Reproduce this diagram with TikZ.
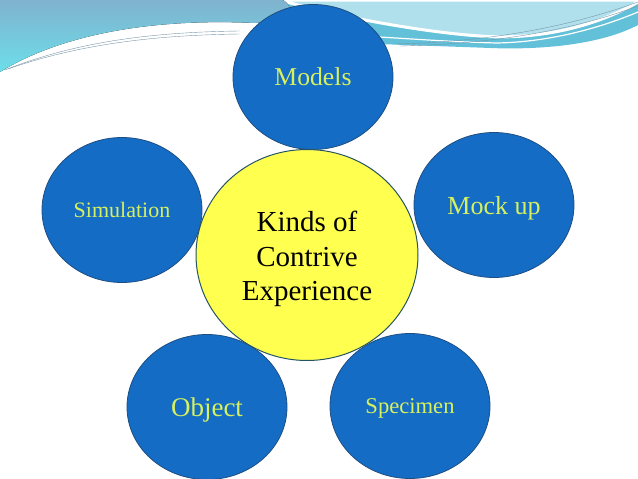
\documentclass[tikz,border=0pt]{standalone}
\usepackage{fontspec}
\setmainfont{Liberation Serif}
\usetikzlibrary{shapes.geometric}
\definecolor{bubbleblue}{RGB}{20,108,196}
\definecolor{bubbleedge}{RGB}{30,78,130}
\definecolor{bubbletext}{RGB}{214,240,96}
\definecolor{hubyellow}{RGB}{255,255,80}
\definecolor{hubedge}{RGB}{38,84,100}
\definecolor{wavesteel}{RGB}{128,178,206}
\definecolor{wavecyan}{RGB}{108,222,234}
\definecolor{wavemist}{RGB}{176,224,236}
\definecolor{waveteal}{RGB}{98,192,216}
\definecolor{wisp}{RGB}{120,150,170}
\tikzset{
  bubble/.style={ellipse,draw=bubbleedge,fill=bubbleblue,line width=0.8pt,
    minimum width=160pt,minimum height=145pt,inner sep=0pt,
    text=bubbletext,text depth=0pt},
  hub/.style={ellipse,draw=hubedge,fill=hubyellow,line width=1pt,
    minimum width=222pt,minimum height=211pt,inner sep=0pt},
  hubtext/.style={align=center,inner sep=0pt,
    font=\fontsize{29}{34.5}\selectfont},
  wispline/.style={draw=wisp,line width=0.4pt}}

\begin{document}
\begin{tikzpicture}[x=1pt,y=-1pt]
  \useasboundingbox (0,0) rectangle (638,479);
  \clip (0,0) rectangle (638,479);
  % waves along the top
  \fill[waveteal] (275,0) -- (638,0) -- (638,25) .. controls (600,45) and (540,50) .. (490,48)
    .. controls (440,46) and (360,44) .. (300,40) -- cycle;
  \draw[white,line width=1.2pt] (330,34) .. controls (400,38) and (450,42) .. (497,43)
    .. controls (550,42) and (600,28) .. (638,12);
  \fill[wavemist,draw=white,line width=3pt] (280,0) -- (638,0) -- (638,2)
    .. controls (590,30) and (530,40) .. (480,36) .. controls (420,32) and (330,15) .. (280,0);
  \fill[top color=wavesteel,bottom color=wavecyan] (0,0) -- (283,0)
    .. controls (296,8) and (290,20) .. (255,23) .. controls (150,18) and (60,35) .. (0,72) -- cycle;
  \draw[wispline] (5,70) .. controls (80,40) and (160,32) .. (240,31);
  \draw[wispline] (8,69) .. controls (85,42) and (165,35) .. (240,34);
  \draw[wispline] (395,44) .. controls (480,42) and (560,30) .. (638,2);
  \draw[wispline] (400,46) .. controls (485,44) and (565,33) .. (638,6);

  % outer bubbles
  \node[bubble,font=\fontsize{25.7}{30}\selectfont] (models) at (313,77) {Models};
  \node[bubble,font=\fontsize{22}{26}\selectfont] (simulation) at (122,210) {Simulation};
  \node[bubble,font=\fontsize{26}{30}\selectfont] (mockup) at (494,205) {Mock up};
  \node[bubble,font=\fontsize{27}{31}\selectfont] (object) at (207,407) {Object};
  \node[bubble,font=\fontsize{22.6}{27}\selectfont] (specimen) at (410,406) {Specimen};

  % centre
  \node[hub] (kinds) at (307,255) {};
  \node[hubtext,yshift=-4pt] (kindstext) at (kinds.center) {Kinds of\\Contrive\\Experience};
\end{tikzpicture}
\end{document}
